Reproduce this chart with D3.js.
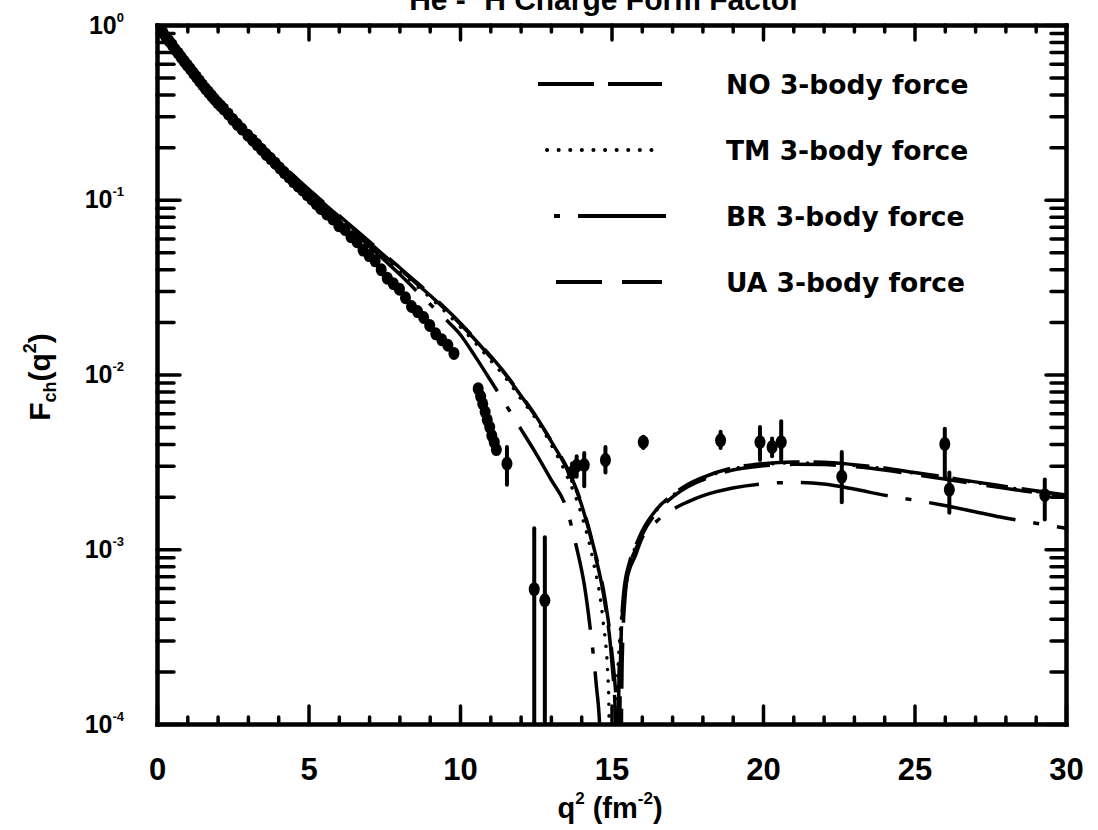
<!DOCTYPE html>
<html>
<head>
<meta charset="utf-8">
<script src="https://cdn.jsdelivr.net/npm/d3@7"></script>
<style>
	body { margin: 0; background: #fff; }
	text { font-family: "Liberation Sans", Arial, sans-serif; font-weight: bold; fill: #000; }
</style>
</head>
<body>
<svg id="chart" width="1098" height="830"></svg>
<script>
// common q^2 grid (fm^-2) below the diffraction minimum
var lowQ2 = [0, 0.5, 1, 1.5, 2, 2.5, 3, 3.5, 4, 4.5, 5, 5.5, 6, 6.5, 7, 7.5, 8, 8.5, 9, 9.5, 10, 10.5, 11, 11.5, 12];

/* theory curves, |F_ch(q^2)| */
var noQ2 = lowQ2.concat([12.5, 13, 13.5, 14, 14.4, 14.8, 15, 15.15, 15.22, 15.3, 15.4, 15.6, 15.8, 16, 16.5, 17, 17.5, 18, 19, 20, 21, 22, 23, 24, 25, 26, 27, 28, 29, 30]);
var noF = [1, 0.767, 0.596, 0.468, 0.372, 0.299, 0.243, 0.200, 0.164, 0.136, 0.1135, 0.0955, 0.0804, 0.0676, 0.0569, 0.0479, 0.0403, 0.0339, 0.0285, 0.0237, 0.0195, 0.0158, 0.0126, 0.0100, 0.0076,
	0.00575, 0.00417, 0.00295, 0.00182, 0.00102, 4.7e-4, 2.4e-4, 8.9e-5, 1e-5, 2.5e-4, 5.6e-4, 8.5e-4, 1.05e-3, 1.26e-3, 1.70e-3, 2.04e-3, 2.34e-3, 2.57e-3, 2.92e-3, 3.09e-3, 3.16e-3, 3.15e-3, 3.05e-3, 2.92e-3, 2.75e-3, 2.59e-3, 2.43e-3, 2.29e-3, 2.16e-3, 2.04e-3];

var tmQ2 = lowQ2.concat([12.5, 13, 13.5, 14, 14.4, 14.7, 14.9, 15.0, 15.2, 15.4, 15.6, 15.8, 16, 16.5, 17, 17.5, 18, 19, 20, 21, 22, 23, 24, 25, 26, 27, 28, 29, 30]);
var tmF = [1, 0.766, 0.595, 0.466, 0.370, 0.297, 0.241, 0.198, 0.162, 0.134, 0.1118, 0.0940, 0.0790, 0.0663, 0.0557, 0.0468, 0.0393, 0.0330, 0.0277, 0.0230, 0.0188, 0.0152, 0.0121, 0.0096, 0.0073,
	0.0056, 0.0040, 0.0027, 0.00160, 8.5e-4, 4.2e-4, 1.6e-4, 1e-5, 1.8e-4, 5.2e-4, 8.2e-4, 1.04e-3, 1.24e-3, 1.68e-3, 2.02e-3, 2.31e-3, 2.54e-3, 2.88e-3, 3.05e-3, 3.12e-3, 3.11e-3, 3.02e-3, 2.89e-3, 2.72e-3, 2.56e-3, 2.41e-3, 2.27e-3, 2.14e-3, 2.02e-3];

var brQ2 = lowQ2.concat([12.5, 13, 13.5, 13.85, 14.1, 14.3, 14.5, 14.62, 14.7, 15.15, 15.25, 15.5, 15.8, 16, 16.5, 17, 17.5, 18, 19, 20, 21, 22, 23, 24, 25, 26, 27, 28, 29, 30]);
var brF = [1, 0.767, 0.596, 0.468, 0.372, 0.298, 0.242, 0.199, 0.163, 0.135, 0.111, 0.0933, 0.0785, 0.0653, 0.0543, 0.0452, 0.0376, 0.0309, 0.0254, 0.0209, 0.0170, 0.0127, 0.0093, 0.00676, 0.0049,
	0.00355, 0.00251, 0.00174, 0.00102, 6.3e-4, 3.5e-4, 1.66e-4, 8.9e-5, 1e-5, 1e-5, 2.0e-4, 6.6e-4, 9.3e-4, 1.15e-3, 1.45e-3, 1.68e-3, 1.86e-3, 2.02e-3, 2.24e-3, 2.37e-3, 2.41e-3, 2.36e-3, 2.21e-3, 2.04e-3, 1.91e-3, 1.78e-3, 1.64e-3, 1.51e-3, 1.41e-3, 1.32e-3];

var uaQ2 = lowQ2.concat([12.5, 13, 13.5, 14, 14.4, 14.8, 15, 15.2, 15.27, 15.35, 15.45, 15.6, 15.8, 16, 16.5, 17, 17.5, 18, 19, 20, 21, 22, 23, 24, 25, 26, 27, 28, 29, 30]);
var uaF = [1, 0.768, 0.598, 0.470, 0.374, 0.301, 0.245, 0.202, 0.166, 0.138, 0.1150, 0.0968, 0.0815, 0.0686, 0.0578, 0.0487, 0.0410, 0.0345, 0.0290, 0.0241, 0.0198, 0.0160, 0.0128, 0.0101, 0.0077,
	0.0058, 0.0042, 0.0030, 0.00185, 0.00105, 5.0e-4, 2.7e-4, 9e-5, 1e-5, 2.2e-4, 5.4e-4, 8.0e-4, 1.0e-3, 1.2e-3, 1.64e-3, 1.98e-3, 2.27e-3, 2.49e-3, 2.84e-3, 3.0e-3, 3.06e-3, 3.05e-3, 2.97e-3, 2.84e-3, 2.68e-3, 2.52e-3, 2.37e-3, 2.23e-3, 2.11e-3, 1.99e-3];

/* measured points, low q^2 (errors hidden inside the marker) */
var expLowQ2 = [0.05, 0.1, 0.15, 0.2, 0.3, 0.4, 0.5, 0.6, 0.7, 0.8, 0.9, 1.0, 1.1, 1.2, 1.3, 1.4, 1.5, 1.6, 1.7, 1.8, 1.9, 2.0, 2.1, 2.2, 2.35, 2.5, 2.65, 2.8, 3.0, 3.15, 3.3, 3.45, 3.6, 3.75, 3.9, 4.05, 4.2, 4.35, 4.5, 4.65, 4.8, 4.95, 5.1, 5.25, 5.4, 5.6, 5.8, 6.0, 6.2, 6.4, 6.6, 6.8, 7.0, 7.2, 7.4, 7.6, 7.8, 8.0, 8.2, 8.4, 8.6, 8.8, 9.0, 9.2, 9.4, 9.6, 9.8, 10.6, 10.68, 10.75, 10.83, 10.9, 10.98, 11.05, 11.13, 11.2];
var expLowF = [0.977, 0.955, 0.93, 0.902, 0.851, 0.81, 0.77, 0.724, 0.69, 0.653, 0.62, 0.589, 0.56, 0.531, 0.505, 0.479, 0.455, 0.432, 0.413, 0.394, 0.376, 0.359, 0.345, 0.331, 0.31, 0.288, 0.27, 0.254, 0.234, 0.22, 0.207, 0.194, 0.182, 0.172, 0.162, 0.152, 0.143, 0.135, 0.127, 0.120, 0.114, 0.107, 0.101, 0.095, 0.0891, 0.083, 0.0776, 0.071, 0.0676, 0.0615, 0.0575, 0.0515, 0.0479, 0.0447, 0.0398, 0.0356, 0.0331, 0.0308, 0.0275, 0.0245, 0.0229, 0.0212, 0.0191, 0.0171, 0.0158, 0.0147, 0.0132, 0.0083, 0.0075, 0.0068, 0.0061, 0.0055, 0.005, 0.00447, 0.0041, 0.00372];

/* measured points with visible error bars */
var expQ2 = [11.55, 12.45, 12.8, 13.7, 13.85, 14.1, 14.8, 16.05, 18.6, 19.9, 20.3, 20.6, 22.6, 26.0, 26.15, 29.3];
var expF = [0.00309, 5.9e-4, 5.1e-4, 0.00275, 0.0030, 0.00303, 0.00324, 0.0041, 0.0042, 0.0041, 0.00385, 0.0041, 0.0026, 0.0040, 0.00219, 0.00204];
var expLo = [0.00234, 1e-5, 1e-5, 0.00245, 0.0026, 0.00229, 0.00275, 0.0038, 0.0038, 0.00324, 0.0034, 0.00324, 0.00186, 0.00257, 0.00162, 0.00148];
var expHi = [0.00385, 1.32e-3, 1.17e-3, 0.0031, 0.0034, 0.00355, 0.00385, 0.0044, 0.0047, 0.0050, 0.0043, 0.0054, 0.0036, 0.0049, 0.00275, 0.00251];

/* axes */
var xMajorTicks = [0, 5, 10, 15, 20, 25, 30];
var xTickLabels = ["0", "5", "10", "15", "20", "25", "30"];
var yMajorTicks = [1e-4, 1e-3, 1e-2, 1e-1, 1];
var yTickExponents = ["-4", "-3", "-2", "-1", "0"];

var legendLabels = ["NO 3-body force", "TM 3-body force", "BR 3-body force", "UA 3-body force"];

(function() {
	var svg = d3.select("#chart"),
		left = 157, right = 1066, top = 25, bottom = 724;

	var x = d3.scaleLinear().domain([0, 30]).range([left, right]);
	var y = d3.scaleLog().domain([1e-4, 1]).range([bottom, top]);

	var xMinorTicks = d3.range(0, 31).filter(function(d) { return d % 5 != 0; });
	var yMinorTicks = [];
	yMajorTicks.slice(0, -1).forEach(function(p) {
		for (var k = 2; k <= 9; k++) yMinorTicks.push(k * p);
	});

	// line styles, shared by the curves and the legend
	var styles = [
		{ q2: noQ2, f: noF, dash: "56,14", cap: "butt", x0: 538, x1: 662 },
		{ q2: tmQ2, f: tmF, dash: "0.1,11.5", cap: "round", x0: 547, x1: 662 },
		{ q2: brQ2, f: brF, dash: "6,18,88,18", cap: "butt", x0: 554, x1: 666 },
		{ q2: uaQ2, f: uaF, dash: "46,20", cap: "butt", x0: 556, x1: 662 }
	];

	function styleAxis(g) {
		g.attr("font-family", "Liberation Sans, Arial, sans-serif").attr("font-weight", "bold");
		g.select(".domain").attr("stroke-width", 4).attr("stroke-linecap", "square");
		g.selectAll(".tick line").attr("stroke-width", 3.5).attr("stroke-linecap", "round");
	}

	// bottom
	svg.append("g").attr("transform", "translate(0," + bottom + ")")
		.call(d3.axisBottom(x).tickValues(xMinorTicks).tickSize(-7).tickSizeOuter(0).tickFormat(""))
		.call(styleAxis);
	svg.append("g").attr("transform", "translate(0," + bottom + ")")
		.call(d3.axisBottom(x).tickValues(xMajorTicks).tickSize(-18).tickSizeOuter(0).tickPadding(34)
			.tickFormat(function(d, i) { return xTickLabels[i]; }))
		.call(styleAxis)
		.attr("font-size", 31);

	// top
	svg.append("g").attr("transform", "translate(0," + top + ")")
		.call(d3.axisTop(x).tickValues(xMinorTicks).tickSize(-7).tickSizeOuter(0).tickFormat(""))
		.call(styleAxis);
	svg.append("g").attr("transform", "translate(0," + top + ")")
		.call(d3.axisTop(x).tickValues(xMajorTicks).tickSize(-15).tickSizeOuter(0).tickFormat(""))
		.call(styleAxis);

	// left
	svg.append("g").attr("transform", "translate(" + left + ",0)")
		.call(d3.axisLeft(y).tickValues(yMinorTicks).tickSize(-17).tickSizeOuter(0).tickFormat(""))
		.call(styleAxis);
	var gLeft = svg.append("g").attr("transform", "translate(" + left + ",0)")
		.call(d3.axisLeft(y).tickValues(yMajorTicks).tickSize(-23).tickSizeOuter(0).tickPadding(33)
			.tickFormat(function() { return "10"; }))
		.call(styleAxis)
		.attr("font-size", 25);
	gLeft.selectAll(".tick text").each(function(d, i) {
		d3.select(this).append("tspan")
			.attr("dy", -12)
			.attr("font-size", 13)
			.text(yTickExponents[i]);
	});

	// right
	svg.append("g").attr("transform", "translate(" + right + ",0)")
		.call(d3.axisRight(y).tickValues(yMinorTicks).tickSize(-15).tickSizeOuter(0).tickFormat(""))
		.call(styleAxis);
	svg.append("g").attr("transform", "translate(" + right + ",0)")
		.call(d3.axisRight(y).tickValues(yMajorTicks).tickSize(-20).tickSizeOuter(0).tickFormat(""))
		.call(styleAxis);

	// axis titles (shifts in px so sub/superscripts return to the baseline)
	svg.append("text")
		.attr("x", 610).attr("y", 818)
		.attr("text-anchor", "middle")
		.attr("font-size", 29)
		.call(function(t) {
			t.append("tspan").text("q");
			t.append("tspan").attr("dy", -14).attr("font-size", 17).text("2");
			t.append("tspan").attr("dy", 14).text(" (fm");
			t.append("tspan").attr("dy", -14).attr("font-size", 17).text("-2");
			t.append("tspan").attr("dy", 14).text(")");
		});

	svg.append("text")
		.attr("transform", "translate(50,377) rotate(-90)")
		.attr("text-anchor", "middle")
		.attr("font-size", 30)
		.call(function(t) {
			t.append("tspan").text("F");
			t.append("tspan").attr("dy", 6).attr("font-size", 18).text("ch");
			t.append("tspan").attr("dy", -6).text("(q");
			t.append("tspan").attr("dy", -14).attr("font-size", 18).text("2");
			t.append("tspan").attr("dy", 14).text(")");
		});

	// title sits on the top edge
	svg.append("text")
		.attr("x", 600).attr("y", 10)
		.attr("text-anchor", "middle")
		.attr("font-size", 30)
		.text("\u00b3He - \u00b3H Charge Form Factor");

	/* curves and data, clipped to the frame */
	svg.append("clipPath").attr("id", "plot-clip")
		.append("rect")
		.attr("x", left).attr("y", top)
		.attr("width", right - left).attr("height", bottom - top);

	var plot = svg.append("g").attr("clip-path", "url(#plot-clip)");

	var line = d3.line()
		.x(function(d) { return x(d[0]); })
		.y(function(d) { return y(d[1]); })
		.curve(d3.curveMonotoneX);

	styles.forEach(function(s) {
		plot.append("path")
			.datum(d3.zip(s.q2, s.f))
			.attr("d", line)
			.attr("fill", "none")
			.attr("stroke", "#000")
			.attr("stroke-width", 3.5)
			.attr("stroke-dasharray", s.dash)
			.attr("stroke-linecap", s.cap);
	});

	plot.selectAll("ellipse.low")
		.data(d3.zip(expLowQ2, expLowF))
		.enter().append("ellipse")
		.attr("class", "low")
		.attr("cx", function(d) { return x(d[0]); })
		.attr("cy", function(d) { return y(d[1]); })
		.attr("rx", 5.5).attr("ry", 6.5)
		.attr("fill", "#000");

	var pts = d3.range(expQ2.length).map(function(i) {
		return { q2: expQ2[i], f: expF[i], lo: expLo[i], hi: expHi[i] };
	});

	plot.selectAll("line.err")
		.data(pts)
		.enter().append("line")
		.attr("class", "err")
		.attr("x1", function(d) { return x(d.q2); })
		.attr("x2", function(d) { return x(d.q2); })
		.attr("y1", function(d) { return y(d.lo); })
		.attr("y2", function(d) { return y(d.hi); })
		.attr("stroke", "#000")
		.attr("stroke-width", 4)
		.attr("stroke-linecap", "round");

	plot.selectAll("ellipse.pt")
		.data(pts)
		.enter().append("ellipse")
		.attr("class", "pt")
		.attr("cx", function(d) { return x(d.q2); })
		.attr("cy", function(d) { return y(d.f); })
		.attr("rx", 5.5).attr("ry", 7)
		.attr("fill", "#000");

	/* legend */
	var legend = svg.append("g");
	legendLabels.forEach(function(label, i) {
		var s = styles[i],
			ly = 84 + i * 66;
		legend.append("line")
			.attr("x1", s.x0).attr("x2", s.x1)
			.attr("y1", ly).attr("y2", ly)
			.attr("stroke", "#000")
			.attr("stroke-width", 4)
			.attr("stroke-dasharray", s.dash)
			.attr("stroke-linecap", s.cap);
		legend.append("text")
			.attr("x", 726).attr("y", ly)
			.attr("dy", "0.36em")
			.attr("font-size", 26.5)
			.style("font-family", "'DejaVu Sans', sans-serif")
			.text(label);
	});
})();
</script>
</body>
</html>
